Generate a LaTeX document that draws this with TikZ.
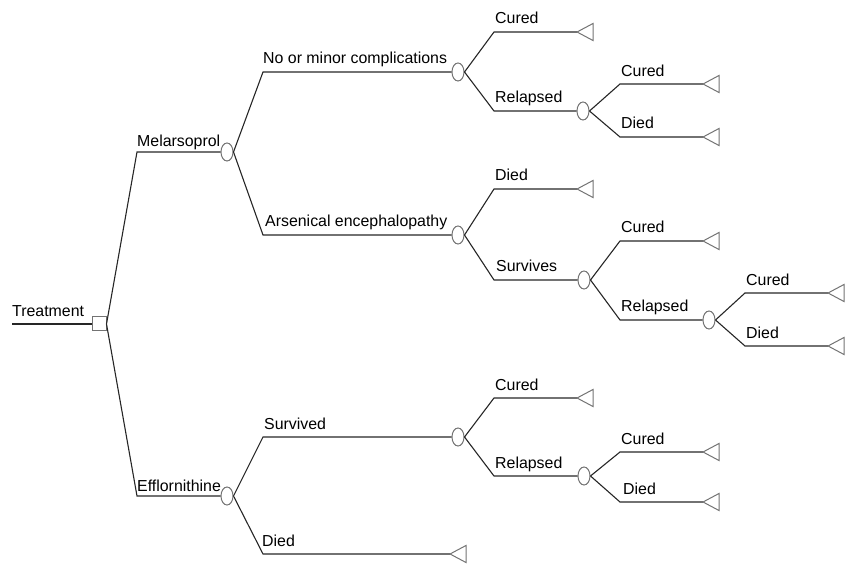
\documentclass[tikz,border=0pt]{standalone}
\usepackage{fontspec}
\setmainfont{Liberation Sans}
\usetikzlibrary{shapes.geometric}
\tikzset{
  branch/.style={draw=black!85, line width=1.1pt},
  chance/.style={ellipse, draw=black!55, line width=1pt, minimum width=12pt, minimum height=18pt, inner sep=0pt, fill=white},
  decision/.style={rectangle, draw=black!55, line width=1pt, minimum width=14pt, minimum height=14pt, inner sep=0pt, fill=white},
  term/.style={draw=black!55, line width=1pt, line join=miter},
  lbl/.style={anchor=base west, inner sep=0pt, font=\fontsize{15.9}{18}\selectfont, text=black}
}
\begin{document}
\begin{tikzpicture}[x=1pt,y=-1pt]
\useasboundingbox (0,0) rectangle (847,564);
% decision node
\coordinate (start) at (12,324);
\node[decision] (S) at (99,324) {};
\draw[branch] (start) -- (S.west);
\node[lbl] (lT) at (12,317) {Treatment};
% level 1
\coordinate (cM) at (137,152);
\coordinate (cE) at (137,496);
\node[chance] (M) at (227,152) {};
\node[chance] (E) at (227,496) {};
\draw[branch] (S.east) -- (cM) -- (M.west);
\draw[branch] (S.east) -- (cE) -- (E.west);
\node[lbl] at (137,147) {Melarsoprol};
\node[lbl] at (137,491) {Efflornithine};
% Melarsoprol children
\coordinate (cA1) at (263,72);
\coordinate (cA2) at (263,235);
\node[chance] (A1) at (458,72) {};
\node[chance] (A2) at (458,235) {};
\draw[branch] (M.east) -- (cA1) -- (A1.west);
\draw[branch] (M.east) -- (cA2) -- (A2.west);
\node[lbl] at (263,64) {No or minor complications};
\node[lbl] at (265,227) {Arsenical encephalopathy};
% A1 children
\coordinate (cA1a) at (494,32);
\coordinate (tA1a) at (577,32);
\coordinate (cA1b) at (494,111);
\node[chance] (R1) at (583,111) {};
\draw[branch] (A1.east) -- (cA1a) -- (tA1a);
\draw[branch] (A1.east) -- (cA1b) -- (R1.west);
\node[lbl] at (495,24) {Cured};
\node[lbl] at (495,103) {Relapsed};
% R1 children
\coordinate (cR1a) at (620,84);
\coordinate (tR1a) at (703,84);
\coordinate (cR1b) at (620,137);
\coordinate (tR1b) at (703,137);
\draw[branch] (R1.east) -- (cR1a) -- (tR1a);
\draw[branch] (R1.east) -- (cR1b) -- (tR1b);
\node[lbl] at (621,77) {Cured};
\node[lbl] at (621,129) {Died};
% A2 children
\coordinate (cA2a) at (494,189);
\coordinate (tA2a) at (577,189);
\coordinate (cA2b) at (494,280);
\node[chance] (S2) at (584,280) {};
\draw[branch] (A2.east) -- (cA2a) -- (tA2a);
\draw[branch] (A2.east) -- (cA2b) -- (S2.west);
\node[lbl] at (495,181) {Died};
\node[lbl] at (496,272) {Survives};
% S2 children
\coordinate (cS2a) at (620,241);
\coordinate (tS2a) at (703,241);
\coordinate (cS2b) at (620,320);
\node[chance] (R2) at (709,320) {};
\draw[branch] (S2.east) -- (cS2a) -- (tS2a);
\draw[branch] (S2.east) -- (cS2b) -- (R2.west);
\node[lbl] at (621,233) {Cured};
\node[lbl] at (621,312) {Relapsed};
% R2 children
\coordinate (cR2a) at (745,293);
\coordinate (tR2a) at (828,293);
\coordinate (cR2b) at (745,346);
\coordinate (tR2b) at (828,346);
\draw[branch] (R2.east) -- (cR2a) -- (tR2a);
\draw[branch] (R2.east) -- (cR2b) -- (tR2b);
\node[lbl] at (746,286) {Cured};
\node[lbl] at (746,338) {Died};
% Efflornithine children
\coordinate (cE1) at (263,437);
\coordinate (cE2) at (263,554);
\coordinate (tE2) at (450,554);
\node[chance] (V) at (458,437) {};
\draw[branch] (E.east) -- (cE1) -- (V.west);
\draw[branch] (E.east) -- (cE2) -- (tE2);
\node[lbl] at (264,429) {Survived};
\node[lbl] at (262,546) {Died};
% V children
\coordinate (cVa) at (494,398);
\coordinate (tVa) at (577,398);
\coordinate (cVb) at (494,476);
\node[chance] (R3) at (584,476) {};
\draw[branch] (V.east) -- (cVa) -- (tVa);
\draw[branch] (V.east) -- (cVb) -- (R3.west);
\node[lbl] at (495,390) {Cured};
\node[lbl] at (495,468) {Relapsed};
% R3 children
\coordinate (cR3a) at (620,452);
\coordinate (tR3a) at (703,452);
\coordinate (cR3b) at (620,502);
\coordinate (tR3b) at (703,502);
\draw[branch] (R3.east) -- (cR3a) -- (tR3a);
\draw[branch] (R3.east) -- (cR3b) -- (tR3b);
\node[lbl] at (621,444) {Cured};
\node[lbl] at (623,494) {Died};
% terminal triangles
\foreach \t in {tA1a,tR1a,tR1b,tA2a,tS2a,tR2a,tR2b,tE2,tVa,tR3a,tR3b}{
  \draw[term] (\t) -- ++(16,-8.5) -- ++(0,17) -- cycle;
}
\end{tikzpicture}
\end{document}
